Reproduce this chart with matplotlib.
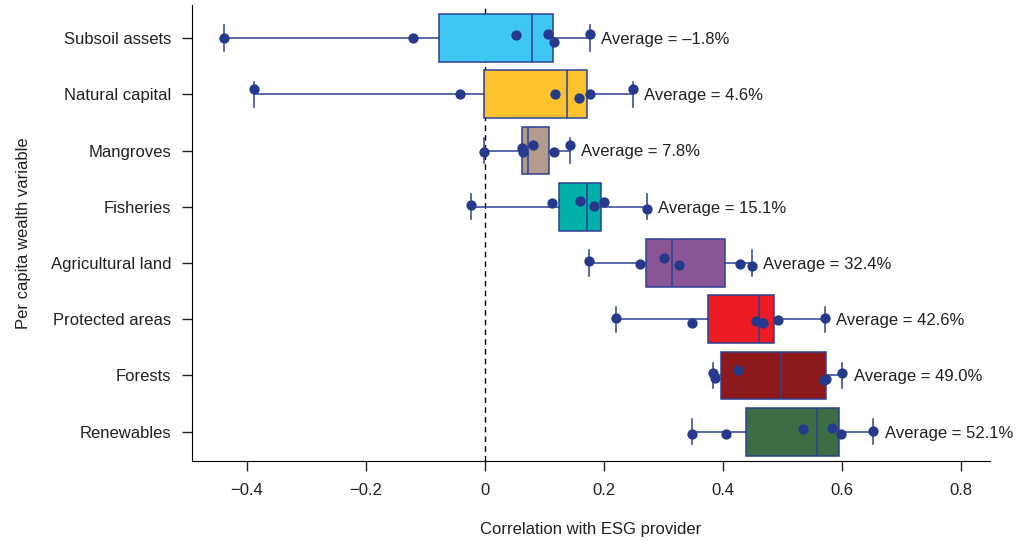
import matplotlib
matplotlib.use("Agg")
from matplotlib import pyplot as plt
import numpy as np

plt.rcParams['font.family'] = ['Liberation Sans', 'DejaVu Sans']

categories = ["Subsoil assets", "Natural capital", "Mangroves", "Fisheries",
              "Agricultural land", "Protected areas", "Forests", "Renewables"]

# correlations, one list per variable
subsoil = [-0.439, -0.121, 0.052, 0.106, 0.117, 0.177]
natural = [-0.388, -0.041, 0.118, 0.159, 0.177, 0.249]
mangroves = [-0.001, 0.062, 0.064, 0.081, 0.117, 0.143]
fisheries = [-0.023, 0.113, 0.160, 0.183, 0.200, 0.272]
agricultural = [0.175, 0.261, 0.301, 0.327, 0.429, 0.449]
protected = [0.221, 0.349, 0.455, 0.467, 0.492, 0.572]
forests = [0.383, 0.387, 0.425, 0.570, 0.574, 0.601]
renewables = [0.348, 0.406, 0.535, 0.583, 0.599, 0.653]

# vertical jitter of the dots (row units)
jitter = [
    [0.0, 0.0, -0.06, -0.065, 0.07, -0.07],
    [-0.10, 0.0, 0.0, 0.06, 0.0, -0.10],
    [0.02, -0.05, 0.02, -0.09, 0.02, -0.09],
    [-0.03, -0.07, -0.10, -0.01, -0.09, 0.04],
    [-0.03, 0.01, -0.08, 0.04, 0.01, 0.06],
    [-0.02, 0.07, 0.03, 0.07, 0.01, -0.03],
    [-0.04, 0.05, -0.10, 0.08, 0.07, -0.04],
    [0.04, 0.04, -0.04, -0.07, 0.04, -0.02],
]

colors = ["#3EC7F2", "#FDC22D", "#B49C8C", "#00B0A9",
          "#8A5595", "#ED1C24", "#8E191C", "#3B6E43"]

data = [subsoil, natural, mangroves, fisheries,
        agricultural, protected, forests, renewables]

line_col = "#2E3F94"
dot_col = "#263A8C"
text_col = "#231F20"

fig = plt.figure(figsize=(10.27, 5.41), dpi=100)
ax = fig.add_axes([0.187, 0.148, 0.777, 0.843])

pos = np.arange(len(categories))
bp = ax.boxplot(data, positions=pos, orientation='horizontal', whis=(0, 100),
                widths=0.85, capwidths=0.45, patch_artist=True, showfliers=False,
                boxprops=dict(edgecolor=line_col, linewidth=1.1),
                whiskerprops=dict(color=line_col, linewidth=1.1),
                capprops=dict(color=line_col, linewidth=1.1),
                medianprops=dict(color=line_col, linewidth=1.1),
                zorder=2)
for patch, c in zip(bp['boxes'], colors):
    patch.set_facecolor(c)

for i, vals in enumerate(data):
    ax.scatter(vals, i + np.array(jitter[i]), s=55, color=dot_col, zorder=4,
               linewidths=0)
    avg = np.mean(vals) * 100
    txt = f"Average = {avg:.1f}%".replace("-", "\u2013")
    ax.annotate(txt, xy=(max(vals), i), xytext=(8, -1), textcoords='offset points',
                va='center', ha='left', fontsize=12, color=text_col)

ax.axvline(0, color='black', linestyle=(0, (4, 3)), linewidth=1, zorder=1)

ax.set_xlim(-0.492, 0.849)
ax.set_ylim(7.52, -0.59)
ax.set_yticks(pos)
ax.set_yticklabels(categories)
ax.set_xticks([-0.4, -0.2, 0, 0.2, 0.4, 0.6, 0.8])
ax.set_xticklabels(["\u22120.4", "\u22120.2", "0", "0.2", "0.4", "0.6", "0.8"])
ax.tick_params(axis='both', labelsize=12, colors=text_col, length=7, width=1)
ax.tick_params(axis='y', pad=8)
ax.tick_params(axis='x', pad=9)
ax.spines['top'].set_visible(False)
ax.spines['right'].set_visible(False)
ax.set_xlabel("Correlation with ESG provider", fontsize=12, color=text_col, labelpad=17)
ax.set_ylabel("Per capita wealth variable", fontsize=12, color=text_col, labelpad=14)

fig.savefig("out.png", dpi=100)
